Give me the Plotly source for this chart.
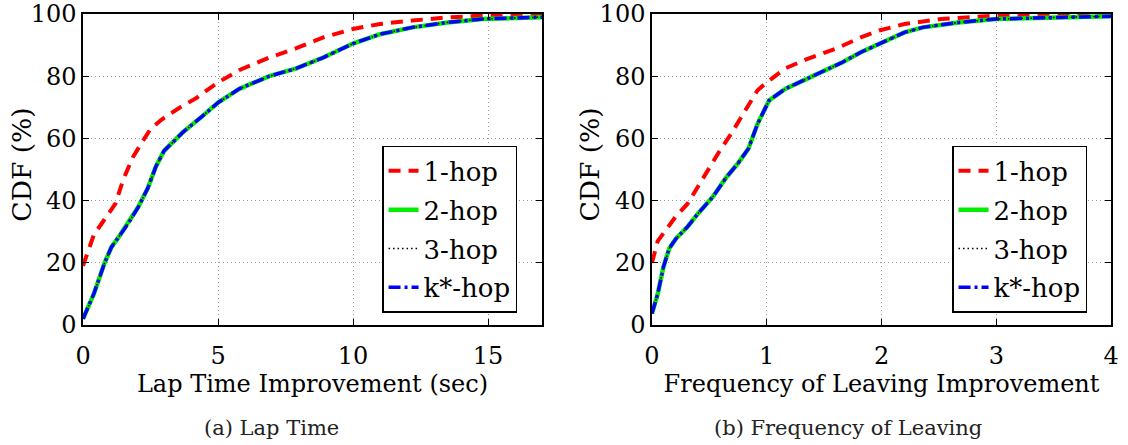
import plotly.graph_objects as go

# ---- data ----
lap_x_1hop = [0, 0.4, 0.8, 1.2, 1.5, 1.85, 2.2, 2.5, 2.9, 3.6, 4.2, 5.0, 5.8, 6.9, 7.9, 8.9, 10.0, 11.0, 12.2, 13.5, 14.8, 17]
lap_y_1hop = [19, 29, 34, 39, 47, 54, 59, 63, 66, 70, 73, 78, 82, 86, 89, 92.5, 95.2, 96.8, 97.9, 98.9, 99.5, 100]

lap_x_khop = [0, 0.4, 0.8, 1.05, 1.3, 1.7, 2.05, 2.4, 2.7, 3.0, 3.3, 3.7, 4.4, 5.0, 5.8, 6.9, 7.9, 8.9, 10.0, 11.0, 12.2, 13.5, 14.8, 17]
lap_y_2hop = [2, 10, 20, 25, 28, 33, 38, 44, 51, 56, 58.5, 62, 67, 71.5, 76, 80, 82.5, 86, 90.5, 93.5, 95.7, 97.3, 98.4, 99]
lap_y_3hop = [2, 10, 20, 25, 28, 33, 38, 44, 51, 56, 58.5, 62, 67, 71.5, 76, 80, 82.5, 86, 90.5, 93.5, 95.7, 97.3, 98.4, 99]
lap_y_kstar = [2, 10, 20, 25, 28, 33, 38, 44, 51, 56, 58.5, 62, 67, 71.5, 76, 80, 82.5, 86, 90.5, 93.5, 95.7, 97.3, 98.4, 99]

fol_x_1hop = [0, 0.05, 0.12, 0.21, 0.31, 0.4, 0.5, 0.59, 0.69, 0.78, 0.84, 0.92, 1.0, 1.16, 1.35, 1.6, 1.82, 1.98, 2.2, 2.52, 3.0, 4.0]
fol_y_1hop = [20, 27, 30.5, 35, 39, 44.5, 50, 56, 61.5, 67, 71, 75.5, 78, 82.5, 85.5, 88.8, 92.5, 94.7, 96.8, 98.4, 99.5, 100]

fol_x_khop = [0, 0.05, 0.1, 0.15, 0.21, 0.31, 0.4, 0.53, 0.65, 0.75, 0.84, 0.92, 1.02, 1.16, 1.41, 1.66, 1.82, 2.01, 2.2, 2.36, 2.67, 3.0, 4.0]
fol_y_2hop = [3.7, 10, 18.7, 24.6, 27.8, 31.6, 35.8, 41.2, 47.6, 52, 56.7, 64.7, 72.2, 75.9, 80.2, 84.5, 87.7, 90.9, 94.1, 95.7, 97.3, 98.4, 99.3]
fol_y_3hop = [3.7, 10, 18.7, 24.6, 27.8, 31.6, 35.8, 41.2, 47.6, 52, 56.7, 64.7, 72.2, 75.9, 80.2, 84.5, 87.7, 90.9, 94.1, 95.7, 97.3, 98.4, 99.3]
fol_y_kstar = [3.7, 10, 18.7, 24.6, 27.8, 31.6, 35.8, 41.2, 47.6, 52, 56.7, 64.7, 72.2, 75.9, 80.2, 84.5, 87.7, 90.9, 94.1, 95.7, 97.3, 98.4, 99.3]

names = ["1-hop", "2-hop", "3-hop", "k*-hop"]
y_ticks = [0, 20, 40, 60, 80, 100]
lap_ticks = [0, 5, 10, 15]
fol_ticks = [0, 1, 2, 3, 4]
y_title = "CDF (%)"
lap_title = "Lap Time Improvement (sec)"
fol_title = "Frequency of Leaving Improvement"
captions = ["(a) Lap Time", "(b) Frequency of Leaving"]

FONT = "DejaVu Serif"
styles = [
    dict(color="#ff0000", width=4, dash="12px,8px"),
    dict(color="#00ee00", width=4.5, dash="solid"),
    dict(color="#000000", width=1.5, dash="1.5px,3px"),
    dict(color="#0000ff", width=3.5, dash="12px,4px,3px,4px"),
]

fig = go.Figure()

left = [(lap_x_1hop, lap_y_1hop), (lap_x_khop, lap_y_2hop), (lap_x_khop, lap_y_3hop), (lap_x_khop, lap_y_kstar)]
right = [(fol_x_1hop, fol_y_1hop), (fol_x_khop, fol_y_2hop), (fol_x_khop, fol_y_3hop), (fol_x_khop, fol_y_kstar)]

for i, (x, y) in enumerate(left):
    fig.add_trace(go.Scatter(x=x, y=y, mode="lines", name=names[i], line=styles[i],
                             xaxis="x", yaxis="y", legend="legend", legendgroup="L%d" % i))
for i, (x, y) in enumerate(right):
    fig.add_trace(go.Scatter(x=x, y=y, mode="lines", name=names[i], line=styles[i],
                             xaxis="x2", yaxis="y2", legend="legend2", legendgroup="R%d" % i))

TICKSIZE = 24
axis_common = dict(
    showline=True, linecolor="black", linewidth=1.5, mirror="ticks",
    ticks="inside", ticklen=6, tickcolor="black", tickwidth=1,
    showgrid=True, gridcolor="#999999", gridwidth=1, griddash="1px,3px",
    zeroline=False, automargin=False, ticklabeloverflow="allow",
    tickfont=dict(family=FONT, size=TICKSIZE, color="black"),
)

legend_common = dict(
    xanchor="left", yanchor="top", bgcolor="white", bordercolor="black", borderwidth=1.5,
    font=dict(family=FONT, size=26, color="black"), traceorder="grouped", tracegroupgap=2,
)

fig.update_layout(
    width=1128, height=445,
    margin=dict(l=0, r=0, t=0, b=0),
    paper_bgcolor="white", plot_bgcolor="white",
    font=dict(family=FONT, color="black"),
    xaxis=dict(domain=[0.0736, 0.4805], range=[0, 17], tickvals=lap_ticks, anchor="y",
               ticklabelstandoff=8,
               title=dict(text=lap_title, font=dict(family=FONT, size=24), standoff=3),
               **axis_common),
    yaxis=dict(domain=[0.2697, 0.9685], range=[0, 100], tickvals=y_ticks, anchor="x",
               **axis_common),
    xaxis2=dict(domain=[0.578, 0.985], range=[0, 4], tickvals=fol_ticks, anchor="y2",
                ticklabelstandoff=8,
                title=dict(text=fol_title, font=dict(family=FONT, size=24), standoff=3),
                **axis_common),
    yaxis2=dict(domain=[0.2697, 0.9685], range=[0, 100], tickvals=y_ticks, anchor="x2",
                **axis_common),
    legend=dict(x=0.3387, y=0.672, **legend_common),
    legend2=dict(x=0.844, y=0.672, **legend_common),
    annotations=[
        dict(text=y_title, x=0.0195, y=0.63, xref="paper", yref="paper", textangle=-90,
             showarrow=False, xanchor="center", yanchor="middle",
             font=dict(family=FONT, size=26.5, color="black")),
        dict(text=y_title, x=0.523, y=0.63, xref="paper", yref="paper", textangle=-90,
             showarrow=False, xanchor="center", yanchor="middle",
             font=dict(family=FONT, size=26.5, color="black")),
        dict(text=captions[0], x=0.241, y=0.038, xref="paper", yref="paper",
             showarrow=False, xanchor="center", yanchor="middle",
             font=dict(family=FONT, size=21, color="#222222")),
        dict(text=captions[1], x=0.752, y=0.038, xref="paper", yref="paper",
             showarrow=False, xanchor="center", yanchor="middle",
             font=dict(family=FONT, size=21, color="#222222")),
    ],
)

fig.write_html("out.html", config={"displayModeBar": False},
               post_script="document.body.style.margin='0px';")
